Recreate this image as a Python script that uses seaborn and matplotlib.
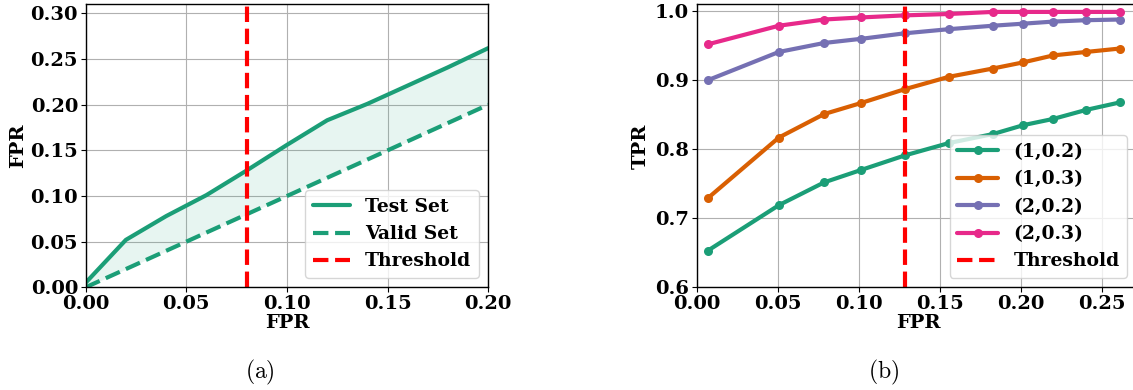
import numpy as np
import pandas as pd
import matplotlib
matplotlib.use("Agg")
import matplotlib.pyplot as plt
import seaborn as sns

# ---- panel (a): FPR on test vs. valid set ----
fpr_valid = [0.00, 0.02, 0.04, 0.06, 0.08, 0.10, 0.12, 0.14, 0.16, 0.18, 0.20]
fpr_test = [0.005, 0.052, 0.078, 0.101, 0.128, 0.156, 0.183, 0.201, 0.221, 0.241, 0.262]
threshold_a = 0.08

# ---- panel (b): ROC-style curves for several settings ----
fpr_b = [0.0068, 0.0507, 0.0786, 0.1014, 0.1283, 0.1556, 0.1827, 0.2016, 0.2200, 0.2402, 0.2613]
tpr_1_02 = [0.653, 0.719, 0.752, 0.770, 0.791, 0.809, 0.822, 0.835, 0.844, 0.857, 0.868]
tpr_1_03 = [0.729, 0.817, 0.851, 0.867, 0.887, 0.905, 0.917, 0.926, 0.936, 0.941, 0.946]
tpr_2_02 = [0.900, 0.941, 0.954, 0.960, 0.968, 0.974, 0.979, 0.982, 0.985, 0.987, 0.988]
tpr_2_03 = [0.952, 0.979, 0.988, 0.991, 0.994, 0.996, 0.999, 0.999, 0.999, 0.999, 0.999]
settings = ["(1,0.2)", "(1,0.3)", "(2,0.2)", "(2,0.3)"]
threshold_b = 0.1283

sns.set_theme(style="ticks")
plt.rcParams["font.family"] = ["DejaVu Serif"]
plt.rcParams["font.weight"] = "bold"
plt.rcParams["axes.labelweight"] = "bold"
plt.rcParams["mathtext.fontset"] = "cm"
plt.rcParams["axes.edgecolor"] = "black"
plt.rcParams["axes.linewidth"] = 1.0
for key in ("text.color", "axes.labelcolor", "xtick.color", "ytick.color"):
    plt.rcParams[key] = "black"

pal = sns.color_palette("Dark2", 4)
FS = 14
LFS = 13.5

fig = plt.figure(figsize=(11.33, 3.90), dpi=100)
ax1 = fig.add_axes([0.0756, 0.2633, 0.3553, 0.7256])
ax2 = fig.add_axes([0.6149, 0.2633, 0.3920, 0.7256])

# panel (a)
df_a = pd.DataFrame({"x": fpr_valid, "test": fpr_test, "valid": fpr_valid})
sns.lineplot(data=df_a, x="x", y="test", ax=ax1, color=pal[0], lw=3, label="Test Set")
sns.lineplot(data=df_a, x="x", y="valid", ax=ax1, color=pal[0], lw=3,
             linestyle="--", label="Valid Set")
ax1.fill_between(df_a["x"], df_a["valid"], df_a["test"], color=pal[0], alpha=0.1, lw=0)
ax1.axvline(threshold_a, color="red", ls="--", lw=3, label="Threshold")
ax1.set_xlim(0, 0.20)
ax1.set_ylim(0, 0.31)
ax1.set_xticks([0.00, 0.05, 0.10, 0.15, 0.20])
ax1.set_yticks([0.00, 0.05, 0.10, 0.15, 0.20, 0.25, 0.30])
ax1.set_xlabel("FPR", fontsize=FS, fontweight="bold", labelpad=1)
ax1.set_ylabel("FPR", fontsize=FS, fontweight="bold", labelpad=2)
ax1.legend(loc="lower right", handlelength=2.0, borderaxespad=0.5,
           prop={"weight": "bold", "size": LFS})

# panel (b)
df_b = pd.DataFrame({
    "FPR": fpr_b * 4,
    "TPR": tpr_1_02 + tpr_1_03 + tpr_2_02 + tpr_2_03,
    "setting": [s for s in settings for _ in fpr_b],
})
sns.lineplot(data=df_b, x="FPR", y="TPR", hue="setting", hue_order=settings,
             palette=pal, marker="o", markersize=6.5, markeredgewidth=0, lw=3, ax=ax2)
ax2.axvline(threshold_b, color="red", ls="--", lw=3, label="Threshold")
ax2.set_xlim(0, 0.274)
ax2.set_ylim(0.6, 1.01)
ax2.set_xticks([0.00, 0.05, 0.10, 0.15, 0.20, 0.25])
ax2.set_yticks([0.6, 0.7, 0.8, 0.9, 1.0])
ax2.set_xlabel("FPR", fontsize=FS, fontweight="bold", labelpad=1)
ax2.set_ylabel("TPR", fontsize=FS, fontweight="bold", labelpad=4)
h, l = ax2.get_legend_handles_labels()
ax2.legend(h, l, loc="lower right", bbox_to_anchor=(0.99, 0.0), handlelength=2.2,
           borderaxespad=0.5, prop={"weight": "bold", "size": LFS})

for ax in (ax1, ax2):
    ax.grid(True, color="#b0b0b0", lw=0.8)
    ax.tick_params(labelsize=FS, length=3.5, width=0.8, pad=2)
    for t in ax.get_xticklabels() + ax.get_yticklabels():
        t.set_fontweight("bold")

fig.text(0.2295, 0.045, r"$\mathrm{(a)}$", ha="center", va="center", fontsize=17)
fig.text(0.7795, 0.045, r"$\mathrm{(b)}$", ha="center", va="center", fontsize=17)

fig.savefig("out.png", dpi=100)
